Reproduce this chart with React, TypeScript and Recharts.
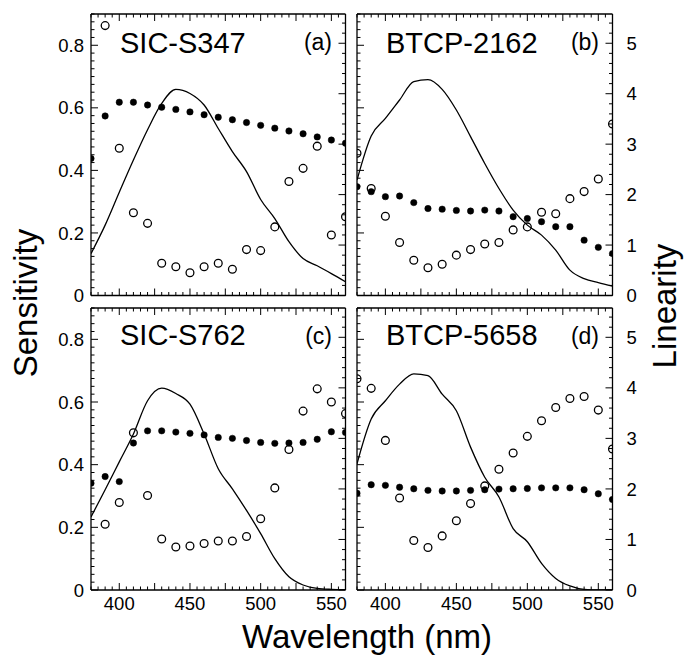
import React from "react"
import { ComposedChart, Line, XAxis, YAxis } from "recharts"

// wavelength grid (nm) shared by every panel
const wavelengths = [380, 390, 400, 410, 420, 430, 440, 450, 460, 470, 480, 490, 500, 510, 520, 530, 540, 550, 560]

// tick labels
const xLabels = [400, 450, 500, 550]
const sensLabels = [0, 0.2, 0.4, 0.6, 0.8]
const linLabels = [0, 1, 2, 3, 4, 5]

// (a) SIC-S347
const aFilled = [0.438, 0.574, 0.618, 0.618, 0.609, 0.602, 0.595, 0.587, 0.578, 0.57, 0.562, 0.553, 0.544, 0.535, 0.526, 0.517, 0.507, 0.497, 0.487]
const aOpen = [null, 5.35, 2.92, 1.64, 1.43, 0.64, 0.57, 0.45, 0.57, 0.64, 0.52, 0.91, 0.89, 1.36, 2.26, 2.52, 2.96, 1.2, 1.56]
const aCurve = [0.134, 0.225, 0.33, 0.433, 0.53, 0.614, 0.659, 0.646, 0.609, 0.534, 0.46, 0.396, 0.307, 0.246, 0.172, 0.118, 0.095, 0.07, 0.044]

// (b) BTCP-2162
const bFilled = [0.348, 0.332, 0.316, 0.318, 0.297, 0.278, 0.276, 0.272, 0.27, 0.273, 0.27, 0.252, 0.246, 0.236, 0.22, 0.22, 0.177, 0.154, 0.134]
const bOpen = [2.82, 2.12, 1.57, 1.05, 0.7, 0.55, 0.62, 0.8, 0.91, 1.02, 1.05, 1.3, 1.36, 1.65, 1.62, 1.92, 2.06, 2.31, 3.4]
const bCurve = [0.369, 0.51, 0.566, 0.625, 0.684, 0.69, 0.659, 0.593, 0.508, 0.422, 0.342, 0.273, 0.225, 0.193, 0.145, 0.081, 0.054, 0.041, 0.03]

// (c) SIC-S762
const cFilled = [0.341, 0.362, 0.346, 0.469, 0.508, 0.508, 0.504, 0.5, 0.495, 0.487, 0.484, 0.477, 0.471, 0.468, 0.469, 0.471, 0.481, 0.505, 0.503]
const cOpen = [null, 1.3, 1.73, 3.11, 1.87, 1.01, 0.85, 0.87, 0.92, 0.97, 0.97, 1.06, 1.41, 2.02, 2.78, 3.54, 3.98, 3.72, 3.49]
const cCurve = [0.233, 0.32, 0.409, 0.498, 0.604, 0.644, 0.627, 0.593, 0.498, 0.387, 0.323, 0.254, 0.18, 0.1, 0.042, 0.016, 0.005, 0.002, 0.001]

// (d) BTCP-5658
const dFilled = [0.309, 0.336, 0.334, 0.328, 0.323, 0.318, 0.316, 0.316, 0.318, 0.32, 0.322, 0.323, 0.324, 0.326, 0.326, 0.326, 0.32, 0.307, 0.289]
const dOpen = [4.18, 3.99, 2.96, 1.82, 0.98, 0.84, 1.07, 1.37, 1.71, 2.06, 2.39, 2.71, 3.04, 3.35, 3.61, 3.79, 3.83, 3.56, 2.79]
const dCurve = [0.403, 0.546, 0.604, 0.657, 0.69, 0.684, 0.625, 0.572, 0.456, 0.36, 0.297, 0.196, 0.154, 0.085, 0.037, 0.013, 0.002, 0, 0]

const W = 684
const H = 658
const font = '"Liberation Sans", Arial, Helvetica, sans-serif'

const xTicks = Array.from({ length: 37 }, (_, i) => 380 + i * 5)
const sensTicks = Array.from({ length: 37 }, (_, i) => +(i * 0.025).toFixed(3))
const linTicks = Array.from({ length: 28 }, (_, i) => +(i * 0.2).toFixed(1))

const panels = [
  { id: "a", title: "SIC-S347", tag: "(a)", left: 91, top: 14, right: 345.5, bottom: 295.5, filled: aFilled, open: aOpen, curve: aCurve, showX: false, showL: true, showR: false },
  { id: "b", title: "BTCP-2162", tag: "(b)", left: 357, top: 14, right: 612.5, bottom: 295.5, filled: bFilled, open: bOpen, curve: bCurve, showX: false, showL: false, showR: true },
  { id: "c", title: "SIC-S762", tag: "(c)", left: 91, top: 308, right: 345.5, bottom: 590, filled: cFilled, open: cOpen, curve: cCurve, showX: true, showL: true, showR: false },
  { id: "d", title: "BTCP-5658", tag: "(d)", left: 357, top: 308, right: 612.5, bottom: 590, filled: dFilled, open: dOpen, curve: dCurve, showX: true, showL: false, showR: true },
]

const xTick = (side: string, labels: boolean) => (props: any) => {
  const { x, y, payload } = props
  const v = Math.round(payload.value)
  const len = v % 25 === 0 ? 7 : 3.5
  const dir = side === "bottom" ? -1 : 1
  return (
    <g>
      <line x1={x} y1={y} x2={x} y2={y + dir * len} stroke="#000" strokeWidth={1} />
      {labels && xLabels.includes(v) && (
        <text x={x} y={y + 20} textAnchor="middle" fontSize={18.5} fontFamily={font} fill="#000">
          {v}
        </text>
      )}
    </g>
  )
}

const sensTick = (labels: boolean) => (props: any) => {
  const { x, y, payload } = props
  const k = Math.round(payload.value * 1000)
  const major = k % 200 === 0
  const v = k / 1000
  return (
    <g>
      <line x1={x} y1={y} x2={x + (major ? 7 : 3.5)} y2={y} stroke="#000" strokeWidth={1} />
      {labels && sensLabels.includes(v) && (
        <text x={x - 7} y={y + 6.6} textAnchor="end" fontSize={18.5} fontFamily={font} fill="#000">
          {v === 0 ? "0" : v.toFixed(1)}
        </text>
      )}
    </g>
  )
}

const linTick = (labels: boolean) => (props: any) => {
  const { x, y, payload } = props
  const k = Math.round(payload.value * 10)
  const major = k % 10 === 0
  const v = k / 10
  return (
    <g>
      <line x1={x} y1={y} x2={x - (major ? 7 : 3.5)} y2={y} stroke="#000" strokeWidth={1} />
      {labels && major && linLabels.includes(v) && (
        <text x={x + 14} y={y + 6.6} textAnchor="start" fontSize={18.5} fontFamily={font} fill="#000">
          {v}
        </text>
      )}
    </g>
  )
}

const axisLine = { stroke: "#000", strokeWidth: 1.3 }

const Panel = ({ p }: { p: (typeof panels)[number] }) => {
  const rows = wavelengths.map((nm, i) => ({
    nm,
    filled: p.filled[i],
    open: p.open[i],
    curve: p.curve[i],
  }))
  // every axis is 1px wide/tall so that its line sits on the plot edge
  return (
    <div style={{ position: "absolute", left: 0, top: 0 }}>
      <ComposedChart
        width={W}
        height={H}
        data={rows}
        margin={{ top: p.top - 1, left: p.left - 1, right: W - p.right - 1, bottom: H - p.bottom - 1 }}
      >
        <XAxis
          xAxisId="b"
          dataKey="nm"
          type="number"
          domain={[380, 560]}
          allowDataOverflow
          ticks={xTicks}
          interval={0}
          height={1}
          tickSize={0}
          tickMargin={0}
          tickLine={false}
          axisLine={axisLine}
          tick={xTick("bottom", p.showX)}
        />
        <XAxis
          xAxisId="t"
          orientation="top"
          dataKey="nm"
          type="number"
          domain={[380, 560]}
          allowDataOverflow
          ticks={xTicks}
          interval={0}
          height={1}
          tickSize={0}
          tickMargin={0}
          tickLine={false}
          axisLine={axisLine}
          tick={xTick("top", false)}
        />
        <YAxis
          yAxisId="s"
          type="number"
          domain={[0, 0.9]}
          allowDataOverflow
          ticks={sensTicks}
          interval={0}
          width={1}
          tickSize={0}
          tickMargin={0}
          tickLine={false}
          axisLine={axisLine}
          tick={sensTick(p.showL)}
        />
        <YAxis
          yAxisId="l"
          orientation="right"
          type="number"
          domain={[0, 5.58]}
          allowDataOverflow
          ticks={linTicks}
          interval={0}
          width={1}
          tickSize={0}
          tickMargin={0}
          tickLine={false}
          axisLine={axisLine}
          tick={linTick(p.showR)}
        />
        <Line
          xAxisId="b"
          yAxisId="s"
          dataKey="curve"
          type="monotone"
          stroke="#000"
          strokeWidth={1.3}
          dot={false}
          activeDot={false}
          isAnimationActive={false}
        />
        <Line
          xAxisId="b"
          yAxisId="s"
          dataKey="filled"
          stroke="none"
          dot={{ r: 3.2, fill: "#000", stroke: "#000", strokeWidth: 0.5 }}
          activeDot={false}
          isAnimationActive={false}
        />
        <Line
          xAxisId="b"
          yAxisId="l"
          dataKey="open"
          stroke="none"
          dot={{ r: 3.9, fill: "none", stroke: "#000", strokeWidth: 1.3 }}
          activeDot={false}
          isAnimationActive={false}
        />
      </ComposedChart>
    </div>
  )
}

export default function App() {
  return (
    <div style={{ position: "absolute", left: 0, top: 0, width: W, height: H, background: "#fff" }}>
      {panels.map((p) => (
        <Panel key={p.id} p={p} />
      ))}
      <svg width={W} height={H} style={{ position: "absolute", left: 0, top: 0 }} fontFamily={font}>
        {panels.map((p) => (
          <g key={p.id}>
            <text x={p.left + 29} y={p.top + (p.id === "a" || p.id === "b" ? 38.5 : 37)} fontSize={29} fill="#000">
              {p.title}
            </text>
            <text x={p.right - 13.5} y={p.top + 36} fontSize={23} textAnchor="end" fill="#000">
              {p.tag}
            </text>
          </g>
        ))}
        <text x={37} y={303} fontSize={33} textAnchor="middle" transform="rotate(-90 37 303)" fill="#000">
          Sensitivity
        </text>
        <text x={676} y={306} fontSize={33} textAnchor="middle" transform="rotate(-90 676 306)" fill="#000">
          Linearity
        </text>
        <text x={367} y={648} fontSize={33} textAnchor="middle" fill="#000">
          Wavelength (nm)
        </text>
      </svg>
    </div>
  )
}
